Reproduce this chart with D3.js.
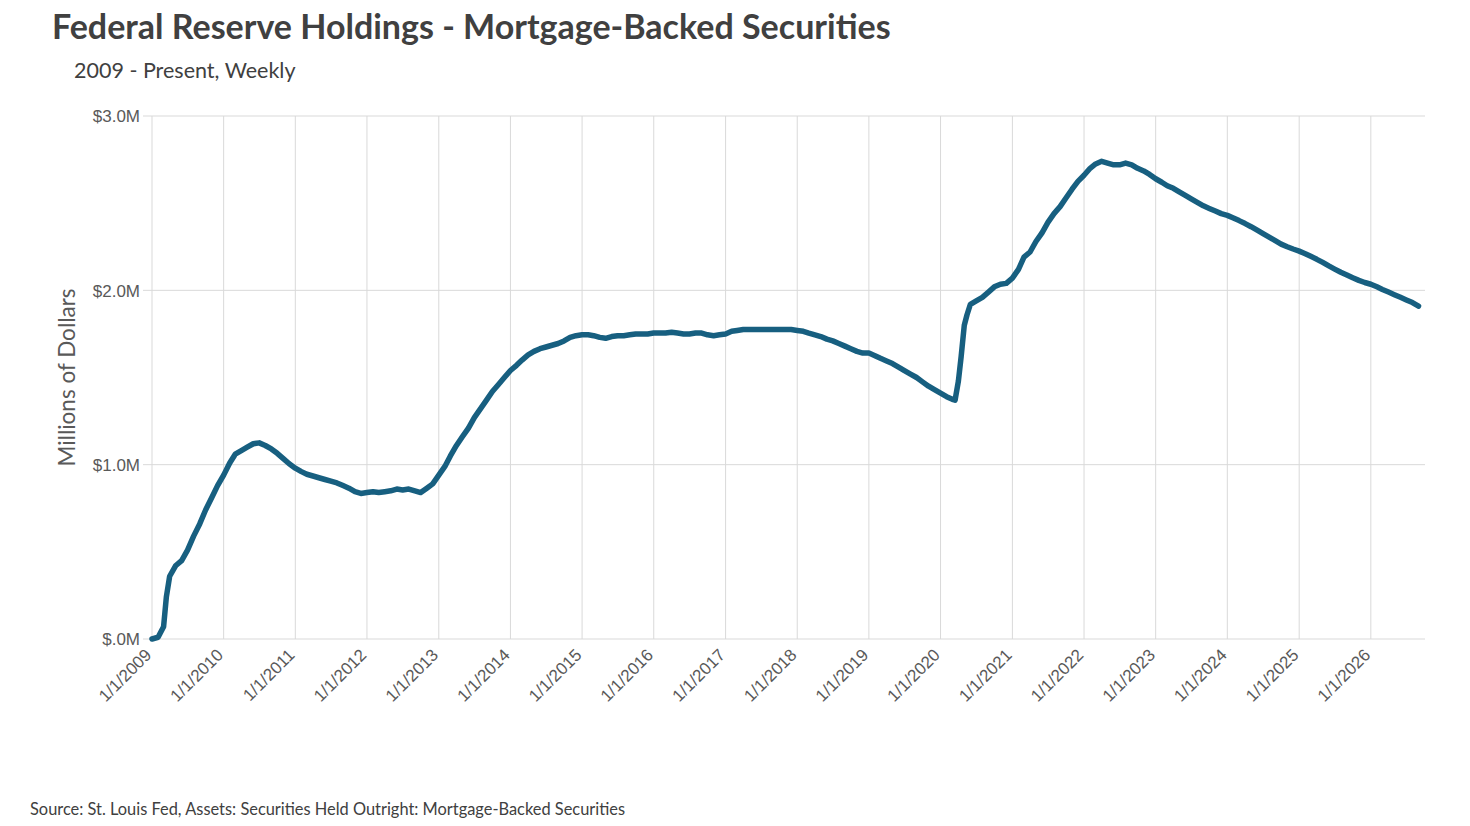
<!DOCTYPE html>
<html>
<head>
<meta charset="utf-8">
<script src="https://cdn.jsdelivr.net/npm/d3@7"></script>
<style>
  body { margin: 0; background: #fff; }
  svg { font-family: Lato, "Open Sans", sans-serif; }
</style>
</head>
<body>
<svg id="chart" width="1470" height="826"></svg>
<script>
// Даты наблюдений (в основном по месяцам, плюс точки весной 2009 и 2020)
const dates2009_2014 = [
  '2009-01-01','2009-02-01','2009-03-01','2009-03-15','2009-04-01','2009-05-01','2009-06-01','2009-07-01','2009-08-01','2009-09-01','2009-10-01','2009-11-01','2009-12-01',
  '2010-01-01','2010-02-01','2010-03-01','2010-04-01','2010-05-01','2010-06-01','2010-07-01','2010-08-01','2010-09-01','2010-10-01','2010-11-01','2010-12-01',
  '2011-01-01','2011-02-01','2011-03-01','2011-04-01','2011-05-01','2011-06-01','2011-07-01','2011-08-01','2011-09-01','2011-10-01','2011-11-01','2011-12-01',
  '2012-01-01','2012-02-01','2012-03-01','2012-04-01','2012-05-01','2012-06-01','2012-07-01','2012-08-01','2012-09-01','2012-10-01','2012-11-01','2012-12-01',
  '2013-01-01','2013-02-01','2013-03-01','2013-04-01','2013-05-01','2013-06-01','2013-07-01','2013-08-01','2013-09-01','2013-10-01','2013-11-01','2013-12-01',
  '2014-01-01','2014-02-01','2014-03-01','2014-04-01','2014-05-01','2014-06-01','2014-07-01','2014-08-01','2014-09-01','2014-10-01','2014-11-01','2014-12-01'
];
const values2009_2014 = [
  0.00, 0.01, 0.07, 0.24, 0.36, 0.42, 0.45, 0.51, 0.59, 0.66, 0.74, 0.81, 0.88,
  0.94, 1.01, 1.06, 1.08, 1.10, 1.12, 1.125, 1.11, 1.09, 1.065, 1.035, 1.005,
  0.98, 0.96, 0.945, 0.935, 0.925, 0.915, 0.905, 0.895, 0.88, 0.865, 0.845, 0.835,
  0.84, 0.845, 0.84, 0.845, 0.85, 0.86, 0.855, 0.86, 0.85, 0.84, 0.865, 0.89,
  0.94, 0.99, 1.05, 1.11, 1.16, 1.21, 1.27, 1.32, 1.37, 1.42, 1.46, 1.50,
  1.54, 1.57, 1.60, 1.63, 1.65, 1.665, 1.675, 1.685, 1.695, 1.71, 1.73, 1.74
];

const dates2015_2020 = [
  '2015-01-01','2015-02-01','2015-03-01','2015-04-01','2015-05-01','2015-06-01','2015-07-01','2015-08-01','2015-09-01','2015-10-01','2015-11-01','2015-12-01',
  '2016-01-01','2016-02-01','2016-03-01','2016-04-01','2016-05-01','2016-06-01','2016-07-01','2016-08-01','2016-09-01','2016-10-01','2016-11-01','2016-12-01',
  '2017-01-01','2017-02-01','2017-03-01','2017-04-01','2017-05-01','2017-06-01','2017-07-01','2017-08-01','2017-09-01','2017-10-01','2017-11-01','2017-12-01',
  '2018-01-01','2018-02-01','2018-03-01','2018-04-01','2018-05-01','2018-06-01','2018-07-01','2018-08-01','2018-09-01','2018-10-01','2018-11-01','2018-12-01',
  '2019-01-01','2019-02-01','2019-03-01','2019-04-01','2019-05-01','2019-06-01','2019-07-01','2019-08-01','2019-09-01','2019-10-01','2019-11-01','2019-12-01',
  '2020-01-01','2020-02-01','2020-03-01','2020-03-15','2020-04-01','2020-04-15','2020-05-01','2020-05-15','2020-06-01','2020-07-01','2020-08-01','2020-09-01','2020-10-01','2020-11-01','2020-12-01'
];
const values2015_2020 = [
  1.745, 1.745, 1.74, 1.73, 1.725, 1.735, 1.74, 1.74, 1.745, 1.75, 1.75, 1.75,
  1.755, 1.755, 1.755, 1.76, 1.755, 1.75, 1.75, 1.755, 1.755, 1.745, 1.74, 1.745,
  1.75, 1.765, 1.77, 1.775, 1.775, 1.775, 1.775, 1.775, 1.775, 1.775, 1.775, 1.775,
  1.77, 1.765, 1.755, 1.745, 1.735, 1.72, 1.71, 1.695, 1.68, 1.665, 1.65, 1.64,
  1.64, 1.625, 1.61, 1.595, 1.58, 1.56, 1.54, 1.52, 1.50, 1.475, 1.45, 1.43,
  1.41, 1.39, 1.375, 1.37, 1.48, 1.62, 1.80, 1.86, 1.92, 1.94, 1.96, 1.99, 2.02, 2.035, 2.04
];

const dates2021_2026 = [
  '2021-01-01','2021-02-01','2021-03-01','2021-04-01','2021-05-01','2021-06-01','2021-07-01','2021-08-01','2021-09-01','2021-10-01','2021-11-01','2021-12-01',
  '2022-01-01','2022-02-01','2022-03-01','2022-04-01','2022-05-01','2022-06-01','2022-07-01','2022-08-01','2022-09-01','2022-10-01','2022-11-01','2022-12-01',
  '2023-01-01','2023-02-01','2023-03-01','2023-04-01','2023-05-01','2023-06-01','2023-07-01','2023-08-01','2023-09-01','2023-10-01','2023-11-01','2023-12-01',
  '2024-01-01','2024-02-01','2024-03-01','2024-04-01','2024-05-01','2024-06-01','2024-07-01','2024-08-01','2024-09-01','2024-10-01','2024-11-01','2024-12-01',
  '2025-01-01','2025-02-01','2025-03-01','2025-04-01','2025-05-01','2025-06-01','2025-07-01','2025-08-01','2025-09-01','2025-10-01','2025-11-01','2025-12-01',
  '2026-01-01','2026-02-01','2026-03-01','2026-04-01','2026-05-01','2026-06-01','2026-07-01','2026-08-01','2026-09-01'
];
const values2021_2026 = [
  2.07, 2.12, 2.19, 2.22, 2.28, 2.33, 2.39, 2.44, 2.48, 2.53, 2.58, 2.625,
  2.66, 2.70, 2.725, 2.74, 2.73, 2.72, 2.72, 2.73, 2.72, 2.70, 2.685, 2.665,
  2.64, 2.62, 2.60, 2.585, 2.565, 2.545, 2.525, 2.505, 2.485, 2.47, 2.455, 2.44,
  2.43, 2.415, 2.40, 2.383, 2.365, 2.345, 2.325, 2.305, 2.285, 2.265, 2.25, 2.237,
  2.225, 2.21, 2.195, 2.178, 2.16, 2.14, 2.122, 2.104, 2.088, 2.072, 2.057, 2.045,
  2.035, 2.02, 2.005, 1.99, 1.975, 1.96, 1.945, 1.93, 1.91
];

// Подписи осей
const yTicks = [0, 1, 2, 3];
const xTickYears = d3.range(2009, 2027);

const parseDate = d3.timeParse('%Y-%m-%d');
const allDates = dates2009_2014.concat(dates2015_2020, dates2021_2026);
const allValues = values2009_2014.concat(values2015_2020, values2021_2026);
const series = allDates.map((d, i) => ({ date: parseDate(d), value: allValues[i] }));

const margin = { left: 152, right: 45, top: 116, bottom: 187 };
const width = 1470, height = 826;

const svg = d3.select('#chart');

const x = d3.scaleTime()
  .domain([new Date(2009, 0, 1), new Date(2026, 9, 4)])
  .range([margin.left, width - margin.right]);

const y = d3.scaleLinear()
  .domain([0, 3])
  .range([height - margin.bottom, margin.top]);

// Сетка
const grid = svg.append('g').attr('class', 'grid');
grid.selectAll('.hline')
  .data(yTicks)
  .enter().append('line')
  .attr('x1', margin.left - 9)
  .attr('x2', width - margin.right)
  .attr('y1', d => y(d))
  .attr('y2', d => y(d))
  .attr('stroke', '#d9d9d9')
  .attr('stroke-width', 1);

grid.selectAll('.vline')
  .data(xTickYears)
  .enter().append('line')
  .attr('x1', d => x(new Date(d, 0, 1)))
  .attr('x2', d => x(new Date(d, 0, 1)))
  .attr('y1', margin.top)
  .attr('y2', height - margin.bottom)
  .attr('stroke', '#d9d9d9')
  .attr('stroke-width', 1);

// Ось Y
const yAxis = svg.append('g')
  .attr('transform', `translate(${margin.left - 12},0)`)
  .call(d3.axisLeft(y).tickValues(yTicks).tickSize(0).tickFormat(d => '$' + d3.format('.1f')(d).replace(/^0/, '') + 'M'));
yAxis.select('.domain').remove();
yAxis.selectAll('text')
  .attr('fill', '#595959')
  .style('font-size', '17px')
  .attr('x', 0)
  .attr('dy', '0.35em');

// Ось X
const xAxis = svg.append('g')
  .attr('transform', `translate(0,${height - margin.bottom})`)
  .call(d3.axisBottom(x).tickValues(xTickYears.map(d => new Date(d, 0, 1))).tickSize(0).tickFormat(d3.timeFormat('%-m/%-d/%Y')));
xAxis.select('.domain').remove();
xAxis.selectAll('text')
  .attr('fill', '#595959')
  .style('font-size', '17px')
  .style('text-anchor', 'end')
  .attr('y', 0)
  .attr('dy', '0')
  .attr('transform', 'translate(0,17) rotate(-45)');

// Линия
const line = d3.line()
  .x(d => x(d.date))
  .y(d => y(d.value));

svg.append('path')
  .datum(series)
  .attr('fill', 'none')
  .attr('stroke', '#175f80')
  .attr('stroke-width', 5.5)
  .attr('stroke-linejoin', 'round')
  .attr('stroke-linecap', 'round')
  .attr('d', line);

// Заголовки
svg.append('text')
  .attr('x', 52)
  .attr('y', 39)
  .attr('fill', '#404040')
  .style('font-size', '34px')
  .style('font-weight', 'bold')
  .text('Federal Reserve Holdings - Mortgage-Backed Securities');

svg.append('text')
  .attr('x', 74)
  .attr('y', 78)
  .attr('fill', '#404040')
  .style('font-size', '21.5px')
  .text('2009 - Present, Weekly');

svg.append('text')
  .attr('transform', `translate(75,${(margin.top + height - margin.bottom) / 2}) rotate(-90)`)
  .attr('text-anchor', 'middle')
  .attr('fill', '#595959')
  .style('font-size', '22.5px')
  .text('Millions of Dollars');

svg.append('text')
  .attr('x', 30)
  .attr('y', 815)
  .attr('fill', '#404040')
  .style('font-size', '16.4px')
  .text('Source: St. Louis Fed, Assets: Securities Held Outright: Mortgage-Backed Securities');
</script>
</body>
</html>
